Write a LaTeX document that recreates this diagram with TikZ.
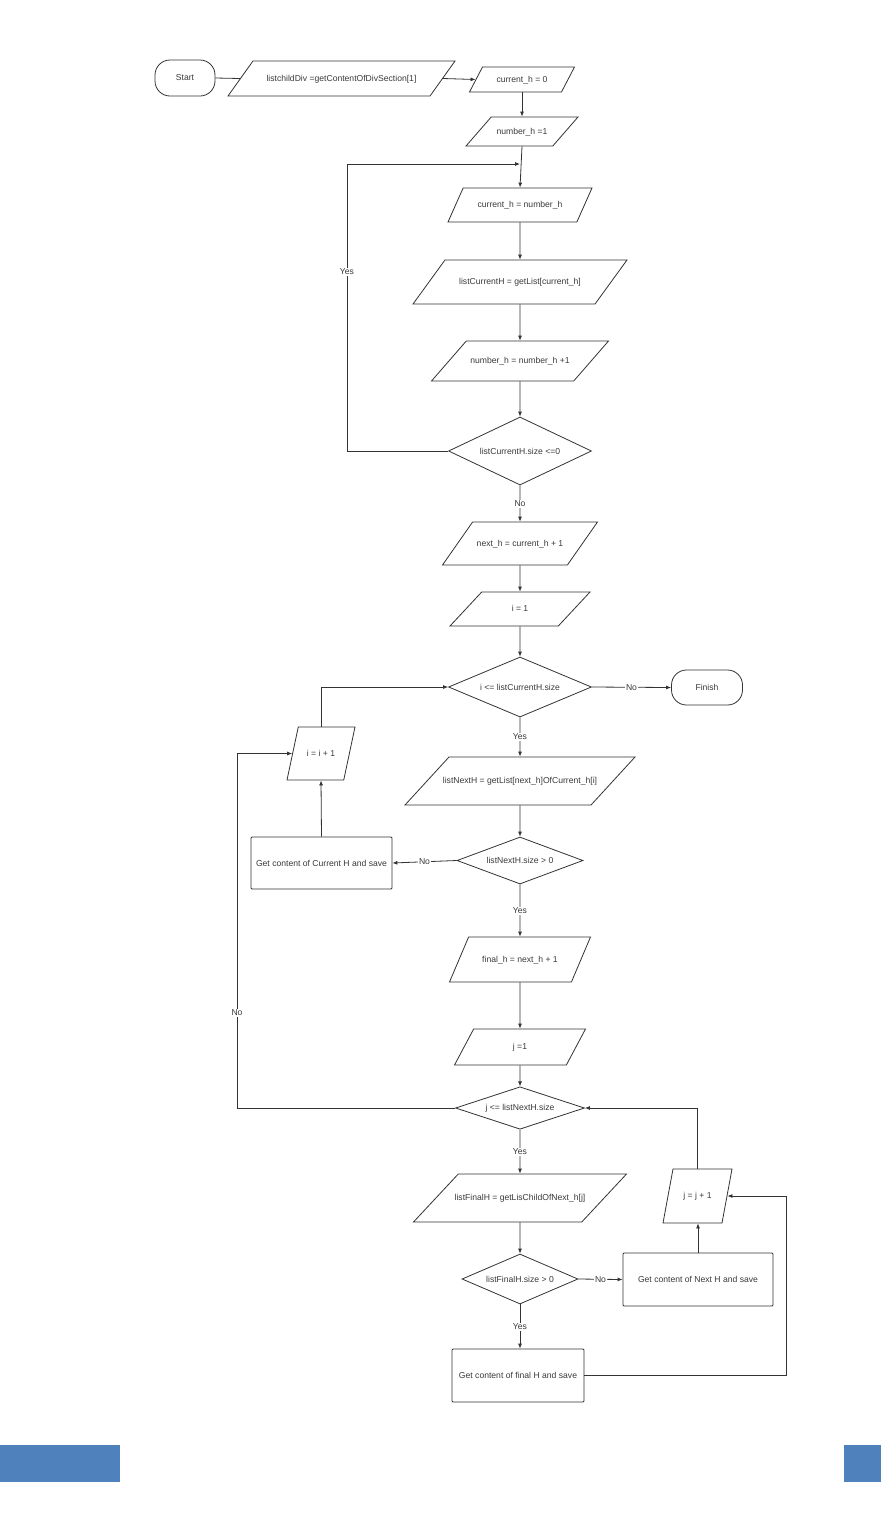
\documentclass[tikz,border=0pt]{standalone}
\usepackage{fontspec}
\setmainfont{Liberation Sans}
\usetikzlibrary{shapes.geometric,arrows.meta}
\definecolor{ln}{HTML}{333333}
\definecolor{tx}{HTML}{3A3A3A}
\definecolor{barblue}{HTML}{4F81BD}
\begin{document}
\begin{tikzpicture}[x=1pt,y=-1pt,
  every node/.style={font=\fontsize{8.6}{10}\selectfont, text=tx},
  base/.style={draw=ln, line width=0.8pt, inner sep=1pt, fill=white},
  term/.style 2 args={base, rectangle, rounded corners=15pt, minimum width=#1, minimum height=#2},
  io/.style n args={5}{base, trapezium, trapezium left angle=#1, trapezium right angle=#2,
     trapezium stretches body, inner ysep=0pt, inner xsep=-15pt, minimum width=#3,
     text height=#4, text depth=#5},
  dec/.style 2 args={base, diamond, aspect=2, inner sep=0pt, minimum width=#1, minimum height=#2},
  proc/.style 2 args={base, rectangle, rounded corners=1pt, minimum width=#1, minimum height=#2},
  arr/.style={draw=ln, line width=0.8pt, -{Latex[length=5pt,width=4pt]}},
  ln/.style={draw=ln, line width=0.8pt},
  lbl/.style={fill=white, inner sep=1pt}]
\useasboundingbox (0,0) rectangle (881,1532);
\fill[barblue] (0,1445) rectangle (120,1482);
\fill[barblue] (844,1445) rectangle (881,1482);

% nodes
\node[term={60pt}{36pt}] (start) at (185,78) {Start};
\node[io={54.5}{125.5}{227pt}{20.2pt}{14.8pt}] (listchild) at (341.5,78.5) {listchildDiv =getContentOfDivSection[1]};
\node[io={62.5}{117.5}{105pt}{15.2pt}{9.8pt}] (cur0) at (522,79.5) {current\_h = 0};
\node[io={49}{131}{112pt}{17.2pt}{11.8pt}] (num1) at (522,131.5) {number\_h =1};
\node[io={66}{114}{144pt}{19.7pt}{14.3pt}] (curnum) at (520,205) {current\_h = number\_h};
\node[io={54}{126}{214pt}{24.7pt}{19.3pt}] (listcur) at (520,282) {listCurrentH = getList[current\_h]};
\node[io={49}{131}{177pt}{22.7pt}{17.3pt}] (numnum) at (520,361) {number\_h = number\_h +1};
\node[dec={143pt}{68pt}] (d1) at (520,451) {listCurrentH.size <=0};
\node[io={55}{125}{155pt}{24.2pt}{18.8pt}] (nexth) at (520,543.5) {next\_h = current\_h + 1};
\node[io={47}{133}{140pt}{19.7pt}{14.3pt}] (i1) at (520,609) {i = 1};
\node[dec={143pt}{60pt}] (d2) at (520,687) {i <= listCurrentH.size};
\node[term={71pt}{35pt}] (finish) at (707,687.5) {Finish};
\node[io={78}{102}{68pt}{29.2pt}{23.8pt}] (iinc) at (321,753.5) {i = i + 1};
\node[io={47.5}{132.5}{230pt}{26.7pt}{21.3pt}] (listnext) at (520,781) {listNextH = getList[next\_h]OfCurrent\_h[i]};
\node[dec={126pt}{47pt}] (d3) at (520,860.5) {listNextH.size > 0};
\node[proc={141pt}{52pt}] (getcur) at (321.5,863) {Get content of Current H and save};
\node[io={67}{113}{141pt}{25.2pt}{19.8pt}] (finalh) at (520,959.5) {final\_h = next\_h + 1};
\node[io={62}{118}{131pt}{20.7pt}{15.3pt}] (j1) at (520,1047) {j =1};
\node[dec={129pt}{42pt}] (d4) at (520,1108) {j <= listNextH.size};
\node[io={47}{133}{213pt}{26.7pt}{21.3pt}] (listfinal) at (520,1198) {listFinalH = getLisChildOfNext\_h[j]};
\node[dec={116pt}{50pt}] (d5) at (520,1279) {listFinalH.size > 0};
\node[proc={150pt}{53pt}] (getnext) at (698,1279.5) {Get content of Next H and save};
\node[io={79.5}{100.5}{69pt}{29.7pt}{24.3pt}] (jinc) at (697.5,1196) {j = j + 1};
\node[proc={132pt}{53pt}] (getfinal) at (518,1375.5) {Get content of final H and save};

% helper coordinates
\coordinate (join1) at (520,164);
\coordinate (yesL) at (347,451);
\coordinate (noL) at (237,1108);
\coordinate (rr) at (786,1375.5);

% connectors
\draw[ln] (start.east) -- (listchild.left side);
\draw[arr] (listchild.right side) -- (cur0.left side);
\draw[arr] (cur0.south) -- (cur0.south |- num1.north);
\draw[arr] (num1.south) -- (curnum.north);
\draw[arr] (d1.west) -- (yesL) |- (join1);
\node[lbl] at (347,272) {Yes};
\draw[arr] (curnum.south) -- (listcur.north);
\draw[arr] (listcur.south) -- (numnum.north);
\draw[arr] (numnum.south) -- (d1.north);
\draw[arr] (d1.south) -- node[lbl, pos=0.5] {No} (nexth.north);
\draw[arr] (nexth.south) -- (i1.north);
\draw[arr] (i1.south) -- (d2.north);
\draw[arr] (d2.east) -- node[lbl] {No} (finish.west);
\draw[arr] (d2.south) -- node[lbl] {Yes} (listnext.north);
\draw[arr] (iinc.north) |- (d2.west);
\draw[arr] (listnext.south) -- (d3.north);
\draw[arr] (d3.west) -- node[lbl] {No} (getcur.east);
\draw[arr] (getcur.north) -- (iinc.south);
\draw[arr] (d3.south) -- node[lbl] {Yes} (finalh.north);
\draw[arr] (finalh.south) -- (j1.north);
\draw[arr] (j1.south) -- (d4.north);
\draw[arr] (d4.west) -- (noL) |- (iinc.left side);
\node[lbl] at (237,1013) {No};
\draw[arr] (d4.south) -- node[lbl] {Yes} (listfinal.north);
\draw[arr] (listfinal.south) -- (d5.north);
\draw[arr] (d5.east) -- node[lbl] {No} (getnext.west);
\draw[arr] (getnext.north) -- (getnext.north |- jinc.south);
\draw[arr] (jinc.north) |- (d4.east);
\draw[arr] (d5.south) -- node[lbl] {Yes} (d5.south |- getfinal.north);
\draw[arr] (getfinal.east) -- (rr) |- (jinc.right side);
\end{tikzpicture}
\end{document}
